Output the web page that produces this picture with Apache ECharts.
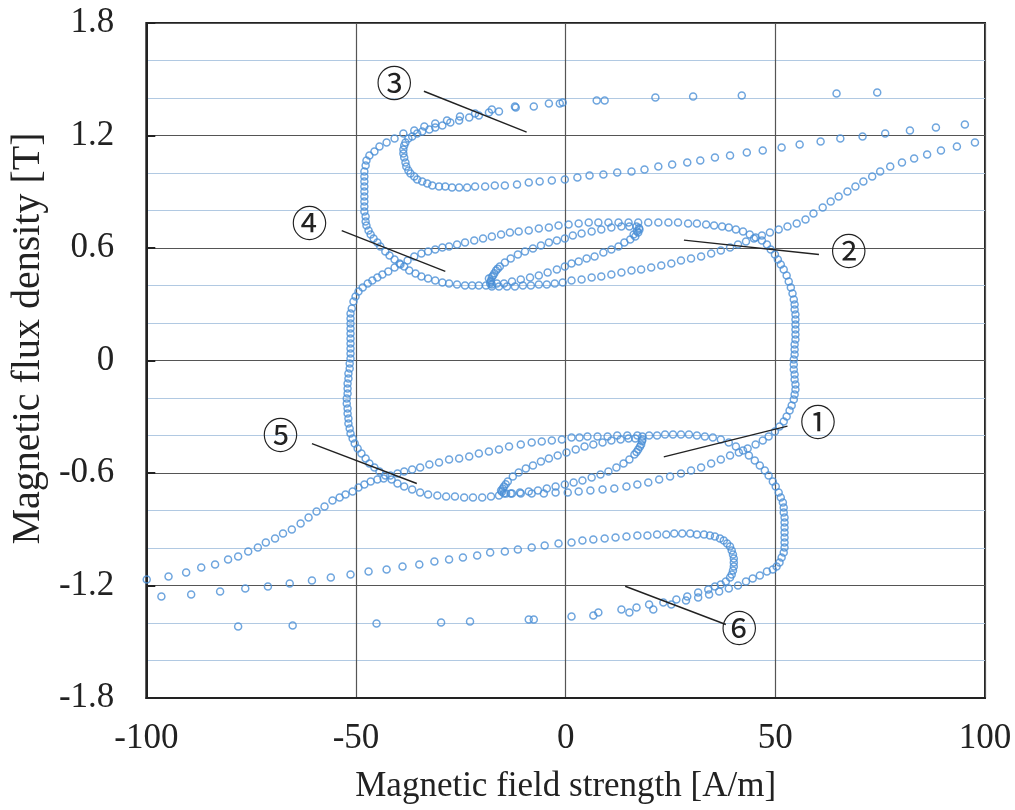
<!DOCTYPE html>
<html>
<head>
<meta charset="utf-8">
<script src="https://cdn.jsdelivr.net/npm/echarts@6.0.0/dist/echarts.min.js"></script>
<style>
  html, body { margin: 0; padding: 0; background: #fff; }
  #chart { width: 1015px; height: 810px; }
</style>
</head>
<body>
<div id="chart"></div>
<script>
// Axis ticks
const xTickValues = [-100, -50, 0, 50, 100];
const yTickLabels = ['-1.8', '-1.2', '-0.6', '0', '0.6', '1.2', '1.8'];

// Measured B-H points, [H (A/m), B (T)], one array per traced branch.

// Upper reversal hook (3): falls from +H, turns near -38 A/m and climbs back
const hookUpper = [
  [95.2,1.259],[88.3,1.243],[82.1,1.227],[76.2,1.211],[70.8,1.195],[65.5,1.184],[60.8,1.168],[55.8,1.152],
  [51.5,1.136],[47.0,1.120],[43.2,1.109],[39.2,1.093],[35.6,1.083],[32.1,1.067],[29.0,1.056],[25.4,1.045],
  [22.1,1.035],[18.8,1.019],[15.7,1.008],[12.3,1.003],[9.0,0.992],[5.7,0.987],[2.8,0.976],[-0.2,0.965],
  [-3.3,0.960],[-6.2,0.955],[-8.8,0.949],[-11.6,0.939],[-14.5,0.933],[-16.9,0.933],[-19.2,0.928],[-21.6,0.928],
  [-23.5,0.923],[-25.4,0.923],[-27.1,0.923],[-28.7,0.928],[-30.2,0.928],[-31.8,0.933],[-33.0,0.944],[-34.2,0.955],
  [-35.4,0.965],[-36.1,0.981],[-37.0,0.997],[-37.5,1.013],[-38.0,1.035],[-38.2,1.056],[-38.5,1.083],[-38.7,1.104],
  [-38.7,1.125],[-38.5,1.147],[-38.2,1.163],[-37.5,1.184],[-36.6,1.195],[-35.4,1.211],[-34.2,1.221],[-32.5,1.232],
  [-31.1,1.243],[-29.4,1.253],[-27.5,1.269],[-25.4,1.280],[-23.0,1.296],[-20.7,1.307],[-18.3,1.323],[-15.9,1.328],
  [-12.1,1.355],[-7.6,1.355],[-4.0,1.371],[-0.7,1.376],[7.4,1.387],[21.4,1.403],[42.0,1.413],[74.3,1.429]
];

// Upper outer branch: back along the top, down the left side at -48 A/m (4)
const outerUpper = [
  [64.6,1.424],[30.4,1.408],[9.3,1.387],[-1.4,1.371],[-11.9,1.349],[-17.6,1.339],[-21.6,1.317],[-25.2,1.301],
  [-28.3,1.280],[-31.1,1.264],[-33.7,1.248],[-36.1,1.227],[-38.7,1.211],[-40.8,1.184],[-42.7,1.163],[-44.4,1.141],
  [-45.6,1.115],[-46.8,1.093],[-47.5,1.067],[-47.7,1.040],[-48.0,1.008],[-48.0,0.981],[-48.0,0.955],[-48.0,0.928],
  [-48.0,0.901],[-48.0,0.875],[-48.0,0.848],[-48.0,0.821],[-48.0,0.795],[-47.7,0.768],[-47.7,0.741],[-47.5,0.720],
  [-47.0,0.693],[-46.5,0.672],[-45.8,0.651],[-44.9,0.629],[-44.2,0.608],[-43.0,0.581],[-42.0,0.560],[-40.8,0.539],
  [-39.6,0.517],[-38.5,0.501],[-37.3,0.480],[-35.8,0.464],[-34.4,0.448],[-32.8,0.437],[-31.1,0.427],[-29.4,0.416],
  [-27.8,0.411],[-25.9,0.405],[-24.0,0.400],[-22.3,0.400],[-20.7,0.400],[-19.0,0.400],[-17.6,0.405]
];

// Upper minor loop between -18 and +18 A/m
const minorLoopUpper = [
  [-18.0,0.411],[-18.3,0.437],[-17.9,0.420],[-17.8,0.427],[-17.6,0.445],[-17.3,0.453],[-17.0,0.465],[-16.6,0.480],
  [-16.2,0.490],[-15.7,0.501],[-14.5,0.523],[-13.1,0.544],
  [-11.4,0.565],[-9.7,0.581],[-7.8,0.597],[-5.9,0.613],[-4.0,0.629],[-2.1,0.640],[-0.2,0.651],[1.7,0.667],
  [3.8,0.677],[6.2,0.688],[8.5,0.699],[10.9,0.709],[13.3,0.715],[15.2,0.715],[16.9,0.715],[17.5,0.707],[17.6,0.699],
  [17.3,0.683],[17.0,0.690],[16.6,0.661],[16.2,0.672],[15.4,0.645],[14.0,0.629],[12.6,0.608],[10.9,0.592],[9.0,0.576],[6.9,0.555],
  [5.0,0.544],[3.1,0.528],[1.4,0.517],[-0.2,0.501],[-2.1,0.485],[-4.3,0.469],[-6.4,0.453],[-8.5,0.443],
  [-10.7,0.432],[-12.8,0.421],[-14.7,0.411],[-16.4,0.411]
];

// Rising branch to positive saturation (2)
const riseToPositive = [
  [-17.6,0.395],[-15.9,0.395],[-14.0,0.395],[-12.1,0.395],[-10.2,0.400],[-8.3,0.400],[-6.4,0.405],[-4.5,0.405],
  [-2.6,0.411],[-0.7,0.416],[1.4,0.427],[3.8,0.432],[6.2,0.443],[8.5,0.448],[10.9,0.459],[13.3,0.469],
  [15.7,0.480],[18.0,0.485],[20.4,0.496],[22.8,0.507],[25.2,0.517],[27.5,0.533],[29.9,0.544],[32.3,0.555],
  [34.7,0.571],[37.0,0.587],[39.2,0.603],[41.1,0.619],[43.0,0.635],[44.9,0.651],[46.8,0.667],[48.7,0.683],
  [50.8,0.699],[52.9,0.715],[55.1,0.731],[57.2,0.752],[59.1,0.784],[61.3,0.816],[63.2,0.848],[65.1,0.875],
  [67.2,0.901],[69.1,0.928],[71.0,0.955],[73.1,0.981],[75.0,1.008],[77.4,1.035],[80.2,1.056],[83.1,1.077],
  [86.2,1.099],[89.5,1.120],[93.3,1.141],[97.6,1.163]
];

// Main loop: up from the left side, across the top, down the right side (1)
const mainLoopUpper = [
  [-50.6,0.315],[-50.1,0.341],[-49.4,0.368],[-48.4,0.389],[-47.2,0.411],[-46.1,0.427],[-44.9,0.443],[-43.7,0.459],
  [-42.3,0.475],[-40.8,0.496],[-39.4,0.512],[-37.7,0.533],[-36.1,0.555],[-34.4,0.571],[-32.8,0.581],[-31.1,0.592],
  [-29.4,0.603],[-27.8,0.608],[-25.9,0.619],[-24.0,0.629],[-21.8,0.640],[-19.7,0.651],[-17.6,0.661],[-15.4,0.672],
  [-13.3,0.683],[-11.2,0.688],[-8.8,0.693],[-6.4,0.704],[-4.0,0.709],[-1.7,0.720],[0.7,0.725],[3.1,0.731],
  [5.5,0.736],[7.8,0.736],[10.2,0.736],[12.6,0.736],[15.0,0.736],[17.3,0.736],[19.7,0.736],[22.1,0.736],
  [24.5,0.736],[26.8,0.736],[29.2,0.731],[31.3,0.731],[33.5,0.725],[35.4,0.720],[37.3,0.715],[38.9,0.709],
  [40.6,0.699],[42.3,0.688],[43.9,0.672],[45.3,0.656],[46.8,0.640],[48.0,0.619],[48.9,0.592],[49.9,0.565],
  [50.6,0.539],[51.3,0.512],[52.0,0.485],[52.7,0.453],[53.2,0.421],[53.7,0.389],[54.1,0.357],[54.4,0.325],
  [54.6,0.299],[54.6,0.272],[54.8,0.245],[54.8,0.219],[54.8,0.192],[54.8,0.165],[54.8,0.139],[54.8,0.112],
  [54.6,0.085],[54.6,0.059],[54.6,0.032],[54.4,0.005],[54.4,-0.021],[54.4,-0.048],[54.6,-0.075],[54.6,-0.101],
  [54.8,-0.128],[54.8,-0.155],[54.6,-0.181],[54.4,-0.208],[53.9,-0.240],[53.4,-0.267],[52.7,-0.299],[52.0,-0.325],
  [51.0,-0.352],[49.9,-0.379],[48.4,-0.405],[47.0,-0.427],[45.3,-0.448],[43.4,-0.469],[41.3,-0.491],[39.2,-0.507],
  [37.0,-0.528],[34.7,-0.549],[32.3,-0.571],[29.9,-0.587],[27.5,-0.603],[24.9,-0.619],[22.3,-0.635],[19.7,-0.651],
  [17.1,-0.661],[14.5,-0.672],[11.6,-0.683],[8.8,-0.688],[5.9,-0.693],[3.1,-0.699],[0.5,-0.704],[-2.4,-0.704],
  [-5.2,-0.709],[-8.1,-0.709],[-10.7,-0.709],[-12.8,-0.709]
];

// Main loop: down the left side and along the bottom (5)
const mainLoopLeft = [
  [-51.0,0.277],[-51.3,0.251],[-51.3,0.224],[-51.3,0.197],[-51.3,0.171],[-51.3,0.144],[-51.3,0.117],[-51.3,0.091],
  [-51.3,0.064],[-51.3,0.037],[-51.3,0.011],[-51.5,-0.016],[-51.5,-0.043],[-51.8,-0.069],[-51.8,-0.096],[-52.0,-0.123],
  [-52.0,-0.149],[-52.0,-0.176],[-52.2,-0.203],[-52.2,-0.229],[-52.0,-0.256],[-52.0,-0.283],[-51.8,-0.309],[-51.8,-0.336],
  [-51.5,-0.363],[-51.3,-0.389],[-50.8,-0.416],[-50.3,-0.443],[-49.6,-0.469],[-48.7,-0.496],[-47.7,-0.523],[-46.8,-0.549],
  [-45.6,-0.571],[-44.4,-0.592],[-43.0,-0.613],[-41.5,-0.635],[-40.1,-0.656],[-38.5,-0.672],[-36.6,-0.688],[-34.7,-0.704],
  [-32.8,-0.715],[-30.6,-0.720],[-28.5,-0.725],[-26.4,-0.725],[-24.2,-0.731],[-22.1,-0.731],[-19.9,-0.731],[-17.8,-0.725],
  [-15.9,-0.720],[-14.2,-0.709]
];

// Lower minor loop between -15 and +18 A/m
const minorLoopLower = [
  [18.3,-0.421],[18.2,-0.430],[18.0,-0.448],[17.7,-0.460],[17.3,-0.475],[16.9,-0.488],[16.4,-0.501],[15.2,-0.528],
  [13.8,-0.549],[12.1,-0.571],[10.2,-0.592],
  [8.3,-0.608],[6.2,-0.624],[4.0,-0.640],[1.9,-0.651],[-0.2,-0.661],[-2.4,-0.672],[-4.5,-0.683],[-6.6,-0.693],
  [-8.8,-0.699],[-10.9,-0.704],[-13.1,-0.709],[-14.7,-0.709],[-15.2,-0.700],[-15.4,-0.693],[-15.0,-0.683],[-14.7,-0.672],
  [-14.3,-0.660],[-13.8,-0.645],[-12.6,-0.619],
  [-11.2,-0.597],[-9.5,-0.576],[-7.8,-0.560],[-5.9,-0.539],[-4.0,-0.523],[-1.9,-0.507],[0.2,-0.491],[2.4,-0.475],
  [4.5,-0.459],[6.6,-0.448],[8.8,-0.437],[10.9,-0.427],[13.1,-0.421],[15.0,-0.416],[16.6,-0.416]
];

// Falling branch to negative saturation
const fallToNegative = [
  [17.1,-0.400],[14.7,-0.400],[12.3,-0.400],[10.0,-0.405],[7.6,-0.405],[5.2,-0.405],[3.3,-0.411],[1.4,-0.411],
  [-0.9,-0.421],[-3.3,-0.427],[-5.7,-0.432],[-8.1,-0.437],[-10.7,-0.448],[-13.5,-0.459],[-15.9,-0.475],[-18.3,-0.485],
  [-20.7,-0.496],[-23.0,-0.512],[-25.4,-0.523],[-27.8,-0.528],[-30.2,-0.544],[-32.5,-0.555],[-34.7,-0.571],[-36.6,-0.581],
  [-38.5,-0.592],[-40.1,-0.603],[-41.8,-0.613],[-43.4,-0.629],[-44.9,-0.635],[-46.5,-0.645],[-48.0,-0.661],[-49.4,-0.677],
  [-50.8,-0.699],[-52.5,-0.715],[-53.9,-0.731],[-55.6,-0.747],[-57.5,-0.779],[-59.4,-0.805],[-61.3,-0.837],[-63.2,-0.869],
  [-65.3,-0.901],[-67.4,-0.923],[-69.3,-0.949],[-71.5,-0.971],[-73.4,-0.997],[-75.7,-1.019],[-78.1,-1.045],[-80.5,-1.061],
  [-83.6,-1.088],[-86.9,-1.104],[-90.5,-1.131],[-94.7,-1.152],[-99.9,-1.168]
];

// Lower reversal hook (6)
const hookLower = [
  [-96.4,-1.259],[-89.3,-1.248],[-82.4,-1.232],[-76.4,-1.216],[-71.0,-1.205],[-65.8,-1.189],[-60.5,-1.173],[-56.0,-1.157],
  [-51.3,-1.141],[-47.0,-1.125],[-42.7,-1.115],[-38.9,-1.099],[-34.9,-1.088],[-31.3,-1.072],[-27.8,-1.061],[-24.5,-1.051],
  [-21.1,-1.040],[-18.0,-1.024],[-14.5,-1.019],[-11.4,-1.008],[-8.1,-0.997],[-5.0,-0.987],[-1.7,-0.976],[1.4,-0.971],
  [4.0,-0.960],[6.6,-0.955],[9.3,-0.949],[11.9,-0.944],[14.5,-0.939],[17.1,-0.933],[19.5,-0.933],[21.8,-0.928],
  [24.0,-0.928],[25.9,-0.923],[27.8,-0.923],[29.7,-0.923],[31.3,-0.928],[33.0,-0.928],[34.4,-0.933],[35.6,-0.939],
  [36.8,-0.949],[37.7,-0.960],[38.5,-0.976],[39.2,-0.992],[39.6,-1.013],[39.9,-1.035],[40.1,-1.056],[40.1,-1.077],
  [40.1,-1.099],[39.9,-1.120],[39.6,-1.141],[39.2,-1.157],[38.2,-1.179],[37.0,-1.195],[35.6,-1.205],[34.0,-1.221],
  [31.6,-1.237],[29.0,-1.259],[26.4,-1.275],[23.3,-1.291],[19.9,-1.301],[16.9,-1.317],[13.3,-1.328],[7.8,-1.344],
  [1.4,-1.365],[-7.6,-1.381],[-22.8,-1.392],[-45.1,-1.403],[-78.1,-1.419]
];

// Lower outer branch: along the bottom and up the right side at +52 A/m
const outerLower = [
  [-65.1,-1.413],[-29.7,-1.397],[-8.8,-1.381],[6.6,-1.360],[15.2,-1.344],[20.9,-1.328],[25.2,-1.301],[28.7,-1.280],
  [31.6,-1.264],[34.2,-1.248],[36.6,-1.232],[38.9,-1.216],[41.1,-1.200],[43.0,-1.179],[44.6,-1.163],[46.3,-1.147],
  [48.0,-1.125],[49.4,-1.115],[50.3,-1.099],[51.0,-1.077],[51.5,-1.051],[52.0,-1.024],[52.2,-0.997],[52.2,-0.971],
  [52.2,-0.944],[52.2,-0.917],[52.2,-0.891],[52.2,-0.864],[52.2,-0.837],[52.0,-0.811],[52.0,-0.784],[51.8,-0.757],
  [51.3,-0.731],[50.8,-0.704],[50.1,-0.672],[49.4,-0.645],[48.4,-0.613],[47.5,-0.587],[46.3,-0.560],[45.1,-0.533],
  [43.7,-0.507],[42.3,-0.480],[40.6,-0.459],[38.9,-0.437],[37.0,-0.421],[35.1,-0.411],[33.2,-0.405],[31.3,-0.400],
  [29.4,-0.395],[27.5,-0.395],[25.6,-0.395],[23.7,-0.395],[21.8,-0.400],[19.9,-0.400],[18.3,-0.405]
];

// Callouts: circled number, its anchor, and the leader line ends
const calloutLabels = ['①', '②', '③', '④', '⑤', '⑥'];
const calloutAnchors = [[60.2,-0.332],[67.5,0.583],[-40.9,1.481],[-61.1,0.734],[-68.0,-0.400],[41.4,-1.426]];
const leaderLines = [
  [[23.4,-0.514],[52.9,-0.350]],
  [[28.2,0.642],[60.4,0.565]],
  [[-33.8,1.436],[-9.3,1.218]],
  [[-53.4,0.693],[-28.7,0.475]],
  [[-60.5,-0.443],[-35.5,-0.656]],
  [[14.2,-1.204],[38.2,-1.408]]
];

const serif = "'Liberation Serif', 'Times New Roman', serif";
const ringStyle = { color: 'rgba(0,0,0,0)', borderColor: '#4a8fd6', borderWidth: 1.5 };

const branches = [hookUpper, outerUpper, minorLoopUpper, riseToPositive, mainLoopUpper,
                  mainLoopLeft, minorLoopLower, fallToNegative, hookLower, outerLower];

const series = branches.map(function (d, i) {
  return {
    type: 'scatter',
    name: 'branch' + i,
    data: d,
    symbol: 'circle',
    symbolSize: 7,
    itemStyle: ringStyle,
    silent: true,
    z: 3
  };
});

// Leader lines and circled numbers
series.push({
  type: 'scatter',
  name: 'callouts',
  data: [],
  silent: true,
  z: 5,
  markLine: {
    silent: true,
    symbol: ['none', 'none'],
    animation: false,
    label: { show: false },
    lineStyle: { color: '#222', width: 1.4, type: 'solid' },
    data: leaderLines.map(function (seg) {
      return [{ coord: seg[0] }, { coord: seg[1] }];
    })
  },
  markPoint: {
    silent: true,
    animation: false,
    symbol: 'circle',
    symbolSize: 1,
    itemStyle: { color: 'rgba(0,0,0,0)' },
    label: {
      show: true,
      position: 'inside',
      formatter: function (p) { return p.name; },
      fontFamily: "'Noto Sans CJK JP', sans-serif",
      fontSize: 36,
      color: '#222'
    },
    data: calloutLabels.map(function (t, i) {
      return { name: t, coord: calloutAnchors[i] };
    })
  }
});

const chart = echarts.init(document.getElementById('chart'), null, { renderer: 'canvas' });
chart.setOption({
  animation: false,
  backgroundColor: '#ffffff',
  grid: {
    left: 142.5, right: 30, top: 23, bottom: 112,
    show: true, borderColor: '#222', borderWidth: 2, backgroundColor: 'transparent'
  },
  xAxis: {
    type: 'value',
    min: xTickValues[0], max: xTickValues[xTickValues.length - 1], interval: 50,
    axisLine: { show: true, onZero: false, lineStyle: { color: '#222', width: 2 } },
    axisTick: { show: false },
    axisLabel: { fontFamily: serif, fontSize: 35, color: '#222', margin: 23 },
    splitLine: { show: true, lineStyle: { color: '#555555', width: 1.2 } },
    name: 'Magnetic field strength [A/m]',
    nameLocation: 'middle',
    nameGap: 71,
    nameTextStyle: { fontFamily: serif, fontSize: 35, color: '#222' }
  },
  yAxis: {
    type: 'value',
    min: -1.8, max: 1.8, interval: 0.6,
    axisLine: { show: true, onZero: false, lineStyle: { color: '#222', width: 2 } },
    axisTick: { show: true, inside: true, length: 9, lineStyle: { color: '#222', width: 2 } },
    axisLabel: {
      fontFamily: serif, fontSize: 35, color: '#222', margin: 32,
      formatter: function (v) { return yTickLabels[Math.round((v + 1.8) / 0.6)]; }
    },
    splitLine: { show: true, lineStyle: { color: '#555555', width: 1.2 } },
    minorTick: { show: false, splitNumber: 3 },
    minorSplitLine: { show: true, lineStyle: { color: '#b1c9e2', width: 1 } },
    name: 'Magnetic flux density [T]',
    nameLocation: 'middle',
    nameGap: 96,
    nameTextStyle: { fontFamily: serif, fontSize: 40, color: '#222', padding: [0, 0, 0, 44] }
  },
  series: series
});
</script>
</body>
</html>
